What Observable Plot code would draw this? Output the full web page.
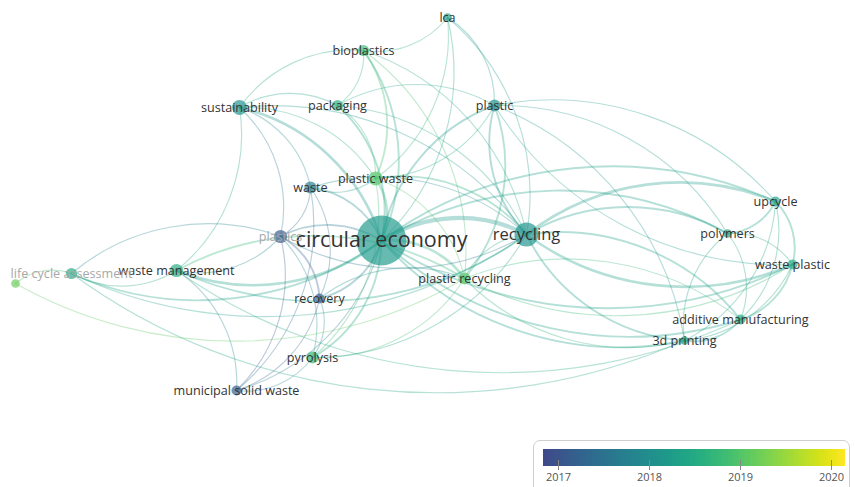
<!DOCTYPE html>
<html><head><meta charset="utf-8">
<script src="https://cdn.jsdelivr.net/npm/d3@7"></script>
<script src="https://cdn.jsdelivr.net/npm/@observablehq/plot@0.6"></script>
<style>
html,body{margin:0;padding:0;background:#fff;}
#wrap{position:relative;width:855px;height:487px;overflow:hidden;font-family:"Open Sans",sans-serif;}
#legend{position:absolute;left:533px;top:440px;width:315px;height:60px;border:1px solid #cfcfcf;border-radius:7px;background:#fff;}
#legend svg{display:block;}
</style></head><body><div id="wrap"><div id="legend"></div></div>
<script>
// Keywords (VOSviewer overlay map): layout position, average publication year, occurrences
const nodeNames = ["circular economy","recycling","plastic waste","waste","plastics","sustainability","packaging","bioplastics","lca","plastic","upcycle","polymers","waste plastic","additive manufacturing","3d printing","plastic recycling","recovery","pyrolysis","municipal solid waste","waste management","life cycle assessment",""];
const nodeX = [381,526,375,310,280,239,337,363,447,494,775,727,792,740,684,464,319,312,236,176,71,15];
const nodeY = [240,234,178,187,236,107,105,50,17,105,201,233,264,319,340,278,298,357,390,270,273,283];
const nodeYear = [2018.2,2018.1,2019.0,2017.7,2017.1,2018.1,2018.6,2018.8,2018.3,2018.0,2018.4,2018.4,2018.5,2018.5,2018.3,2019.0,2017.2,2018.7,2017.1,2018.5,2018.5,2019.2];
const nodeOccurrences = [100,23,8,6,7,9,5,5,3,6,4,3,4,4,3,6,4,6,4,7,5,3];
const fadedLabels = ["plastics","life cycle assessment"];

// co-occurrence links: [from, to, strength]
const links = [
  ["circular economy","recycling",5],["circular economy","plastic recycling",3],["plastic waste","circular economy",3],
  ["waste","circular economy",2],["plastics","circular economy",2],["sustainability","circular economy",3],
  ["packaging","circular economy",2],["bioplastics","circular economy",2],["lca","circular economy",1],
  ["circular economy","plastic",2],["circular economy","upcycle",2],["circular economy","polymers",2],
  ["waste plastic","circular economy",2],["additive manufacturing","circular economy",2],["3d printing","circular economy",2],
  ["circular economy","recovery",2],["circular economy","pyrolysis",2],["circular economy","municipal solid waste",1],
  ["circular economy","waste management",3],["circular economy","life cycle assessment",2],
  ["recycling","plastic",2],["recycling","upcycle",3],["recycling","polymers",2],["waste plastic","recycling",3],
  ["recycling","additive manufacturing",2],["3d printing","recycling",2],["plastic waste","recycling",2],
  ["plastic recycling","recycling",1],["recycling","waste management",2],["sustainability","recycling",1],
  ["bioplastics","recycling",1],["lca","recycling",1],["packaging","recycling",1],["recycling","pyrolysis",1],
  ["recycling","life cycle assessment",1],["waste","recycling",1],["recycling","plastics",1],
  ["plastic","upcycle",1],["waste plastic","plastic",1],["plastic","polymers",1],["lca","plastic",1],
  ["plastic","plastic waste",1],["packaging","plastic",1],["plastic","3d printing",1],["plastic","plastic recycling",2],
  ["upcycle","polymers",2],["upcycle","waste plastic",2],["upcycle","additive manufacturing",1],["upcycle","3d printing",1],
  ["polymers","waste plastic",1],["polymers","additive manufacturing",1],["3d printing","polymers",1],
  ["waste plastic","additive manufacturing",2],["waste plastic","3d printing",1],["additive manufacturing","3d printing",2],
  ["3d printing","plastic recycling",1],["plastic recycling","additive manufacturing",1],["waste plastic","plastic recycling",1],
  ["plastic recycling","pyrolysis",1],["plastic waste","plastic recycling",1],["recovery","plastic recycling",1],
  ["bioplastics","packaging",1],["lca","bioplastics",1],["sustainability","bioplastics",1],["bioplastics","plastic waste",2],
  ["bioplastics","plastic recycling",1],["sustainability","packaging",1],["packaging","plastic waste",1],["lca","plastic waste",1],
  ["sustainability","waste management",1],["sustainability","plastic waste",1],["sustainability","plastics",1],["sustainability","waste",1],
  ["waste","plastics",1],["waste","recovery",1],["plastic waste","waste",1],["waste","municipal solid waste",1],
  ["plastics","recovery",2],["plastics","municipal solid waste",1],["life cycle assessment","plastics",1],
  ["plastics","pyrolysis",1],["plastics","waste management",1],["recovery","pyrolysis",1],["recovery","municipal solid waste",1],
  ["pyrolysis","municipal solid waste",1],["plastic waste","pyrolysis",1],["waste management","life cycle assessment",1],
  ["waste management","plastic recycling",2],["waste management","municipal solid waste",1],
  ["3d printing","life cycle assessment",1],["","life cycle assessment",1],["plastic recycling","",1],
  ["additive manufacturing","waste management",1]
];
const legendTicks = [2017, 2018, 2019, 2020];
const yearDomain = [2016.835, 2020.155];

const nodes = nodeNames.map((name, i) => ({name, x: nodeX[i], y: nodeY[i], year: nodeYear[i], occ: nodeOccurrences[i]}));
const byName = new Map(nodes.map(d => [d.name, d]));
const edges = links.map(([s, t, w]) => {
  const a = byName.get(s), b = byName.get(t);
  return {x1: a.x, y1: a.y, x2: b.x, y2: b.y, w, year: (a.year + b.year) / 2};
});

const colorScale = {type: "linear", domain: yearDomain, interpolate: t => d3.interpolateViridis(0.22 + 0.78 * t)};

const chart = Plot.plot({
  width: 855, height: 487, margin: 0,
  style: {fontFamily: "Open Sans", background: "transparent"},
  x: {domain: [0, 855], range: [0, 855], axis: null},
  y: {domain: [0, 487], range: [0, 487], axis: null},
  color: colorScale,
  r: {type: "sqrt", domain: [0, 100], range: [0, 25]},
  marks: [
    Plot.arrow(edges, {x1: "x1", y1: "y1", x2: "x2", y2: "y2", bend: 30, headLength: 0,
      stroke: "year", strokeWidth: d => 0.4 + 0.75 * d.w, strokeOpacity: 0.33}),
    Plot.dot(nodes, {x: "x", y: "y", r: "occ", fill: "year", fillOpacity: 0.68, stroke: null}),
    Plot.text(nodes, {x: "x", y: "y", text: "name",
      fontSize: d => d.occ >= 50 ? 21.5 : d.occ >= 20 ? 16.5 : 12.6,
      fill: d => fadedLabels.includes(d.name) ? "#a8a8a8" : "#333"})
  ]
});
document.getElementById("wrap").prepend(chart);

const legend = Plot.legend({
  color: {...colorScale},
  width: 315, height: 47, marginLeft: 9, marginRight: 4, marginTop: 8, marginBottom: 22,
  tickSize: 4, ticks: legendTicks, tickFormat: "d",
  style: {fontSize: "11px", color: "#555", fontFamily: "Open Sans"}
});
document.getElementById("legend").append(legend);
d3.select(legend).selectAll(".tick line").attr("y1", -6).attr("stroke", "#888");
</script></body></html>
